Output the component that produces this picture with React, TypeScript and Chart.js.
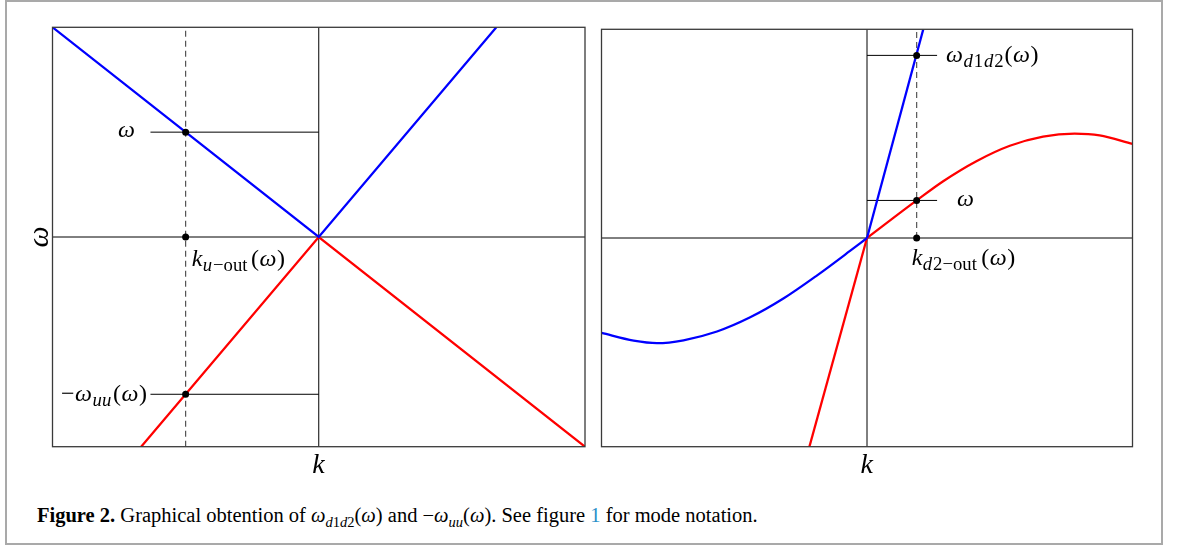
import React, { useEffect, useRef } from "react";
import { Chart, registerables } from "chart.js";

Chart.register(...registerables);

// ---------- data (normalised units, both axes span -1..1) ----------
// Left panel
const LEFT_BLUE_K = [-1, 0, 0.667];
const LEFT_BLUE_W = [1, 0, 1];
const LEFT_RED_K = [-0.667, 0, 1];
const LEFT_RED_W = [-1, 0, -1];
const LEFT_MARK_K = -0.5;
const LEFT_OMEGA = 0.5;
const LEFT_OMEGA_UU = -0.75;
const LEFT_GUIDE_START_K = -0.632;

// Right panel
const RIGHT_BLUE_CURVE_K = [-1, -0.879, -0.791, -0.691, -0.565, -0.44, -0.315, -0.189, -0.064, 0];
const RIGHT_BLUE_CURVE_W = [-0.455, -0.492, -0.504, -0.49, -0.448, -0.38, -0.29, -0.18, -0.062, 0];
const RIGHT_BLUE_LINE_K = [0, 0.212];
const RIGHT_BLUE_LINE_W = [0, 1];
const RIGHT_RED_CURVE_K = [0, 0.187, 0.287, 0.412, 0.538, 0.663, 0.782, 0.876, 1];
const RIGHT_RED_CURVE_W = [0, 0.18, 0.272, 0.368, 0.442, 0.486, 0.5, 0.492, 0.451];
const RIGHT_RED_LINE_K = [-0.217, 0];
const RIGHT_RED_LINE_W = [-1, 0];
const RIGHT_MARK_K = 0.187;
const RIGHT_OMEGA = 0.18;
const RIGHT_OMEGA_D1D2 = 0.875;
const RIGHT_GUIDE_END_K = 0.264;

const AXIS_MIN = -1;
const AXIS_MAX = 1;

// ---------- helpers ----------
const FONT = '"Liberation Serif", "Times New Roman", serif';
const LABEL_SIZE = 24;
const SUB_SCALE = 0.78;
type Part = { t: string; it?: boolean; sub?: boolean };

function pts(ks: number[], ws: number[]) {
  return ks.map((k, i) => ({ x: k, y: ws[i] }));
}

function drawRich(ctx: CanvasRenderingContext2D, parts: Part[], x: number, y: number, size: number, align: "left" | "right" | "center") {
  ctx.save();
  ctx.textBaseline = "alphabetic";
  ctx.textAlign = "left";
  ctx.fillStyle = "#000";
  const fontOf = (p: Part) => `${p.it ? "italic " : ""}${p.sub ? size * SUB_SCALE : size}px ${FONT}`;
  let total = 0;
  const widths = parts.map((p) => {
    ctx.font = fontOf(p);
    const w = ctx.measureText(p.t).width + (p.sub ? 0.9 * p.t.length : 0.5 * p.t.length);
    total += w;
    return w;
  });
  let cx = align === "left" ? x : align === "right" ? x - total : x - total / 2;
  parts.forEach((p, i) => {
    ctx.font = fontOf(p);
    ctx.fillText(p.t, cx, p.sub ? y + size * 0.2 : y);
    cx += widths[i];
  });
  ctx.restore();
}

function lineDs(data: { x: number; y: number }[], color: string, width: number, order: number, extra: any = {}) {
  return {
    data,
    showLine: true,
    borderColor: color,
    backgroundColor: color,
    borderWidth: width,
    pointRadius: 0,
    pointHoverRadius: 0,
    fill: false,
    order,
    ...extra,
  };
}

function pointDs(data: { x: number; y: number }[]) {
  return {
    data,
    showLine: false,
    pointRadius: 3.5,
    pointHoverRadius: 3.5,
    pointBorderWidth: 0,
    backgroundColor: "#000",
    borderColor: "#000",
    order: 0,
  };
}

function baseOptions(padding: any, plugin: any) {
  return {
    type: "scatter" as const,
    options: {
      responsive: false,
      devicePixelRatio: 1,
      animation: false as const,
      events: [],
      layout: { padding },
      plugins: { legend: { display: false }, tooltip: { enabled: false }, title: { display: false } },
      scales: {
        x: { type: "linear" as const, min: AXIS_MIN, max: AXIS_MAX, display: false },
        y: { type: "linear" as const, min: AXIS_MIN, max: AXIS_MAX, display: false },
      },
    },
    plugins: [plugin],
  };
}

const frameAndLabels = (which: "left" | "right") => ({
  id: "frame-" + which,
  afterDatasetsDraw(chart: any) {
    const { ctx, chartArea: a, scales } = chart;
    const xs = scales.x;
    const ys = scales.y;
    ctx.save();
    ctx.strokeStyle = "#3a3a3a";
    ctx.lineWidth = 1.3;
    ctx.strokeRect(a.left, a.top, a.right - a.left, a.bottom - a.top);
    ctx.restore();

    const axisY = 473;
    drawRich(ctx, [{ t: "k", it: true }], xs.getPixelForValue(0), axisY, 28, "center");

    if (which === "left") {
      // rotated omega y label
      ctx.save();
      ctx.translate(40, ys.getPixelForValue(0));
      ctx.rotate(-Math.PI / 2);
      ctx.font = `italic 30px ${FONT}`;
      ctx.textAlign = "center";
      ctx.textBaseline = "middle";
      ctx.fillStyle = "#000";
      ctx.fillText("ω", 0, 0);
      ctx.restore();

      const gx = xs.getPixelForValue(LEFT_GUIDE_START_K);
      const mx = xs.getPixelForValue(LEFT_MARK_K);
      drawRich(ctx, [{ t: "ω", it: true }], gx - 15, ys.getPixelForValue(LEFT_OMEGA) + 5, LABEL_SIZE, "right");
      drawRich(
        ctx,
        [{ t: "−" }, { t: "ω", it: true }, { t: "uu", it: true, sub: true }, { t: "(" }, { t: "ω", it: true }, { t: ")" }],
        gx - 3,
        ys.getPixelForValue(LEFT_OMEGA_UU) + 7,
        LABEL_SIZE,
        "right"
      );
      drawRich(
        ctx,
        [{ t: "k", it: true }, { t: "u", it: true, sub: true }, { t: "−out", sub: true }, { t: "(" }, { t: "ω", it: true }, { t: ")" }],
        mx + 6,
        ys.getPixelForValue(0) + 29,
        LABEL_SIZE,
        "left"
      );
    } else {
      const ex = xs.getPixelForValue(RIGHT_GUIDE_END_K);
      const mx = xs.getPixelForValue(RIGHT_MARK_K);
      drawRich(
        ctx,
        [{ t: "ω", it: true }, { t: "d", it: true, sub: true }, { t: "1", sub: true }, { t: "d", it: true, sub: true }, { t: "2", sub: true }, { t: "(" }, { t: "ω", it: true }, { t: ")" }],
        ex + 9,
        ys.getPixelForValue(RIGHT_OMEGA_D1D2) + 7,
        LABEL_SIZE,
        "left"
      );
      drawRich(ctx, [{ t: "ω", it: true }], ex + 20, ys.getPixelForValue(RIGHT_OMEGA) + 6, LABEL_SIZE, "left");
      drawRich(
        ctx,
        [{ t: "k", it: true }, { t: "d", it: true, sub: true }, { t: "2−out", sub: true }, { t: "(" }, { t: "ω", it: true }, { t: ")" }],
        mx - 5,
        ys.getPixelForValue(0) + 27,
        LABEL_SIZE,
        "left"
      );
    }
  },
});

const BLUE = "#0000ff";
const RED = "#ff0000";
const DASH = { borderDash: [6, 4] };

export default function App() {
  const leftRef = useRef<HTMLCanvasElement>(null);
  const rightRef = useRef<HTMLCanvasElement>(null);

  useEffect(() => {
    const lb = baseOptions({ left: 52.5, top: 27.3, right: 10, bottom: 43.3 }, frameAndLabels("left"));
    const left = new Chart(leftRef.current as HTMLCanvasElement, {
      ...lb,
      data: {
        datasets: [
          pointDs([
            { x: LEFT_MARK_K, y: LEFT_OMEGA },
            { x: LEFT_MARK_K, y: 0 },
            { x: LEFT_MARK_K, y: LEFT_OMEGA_UU },
          ]),
          lineDs(pts(LEFT_BLUE_K, LEFT_BLUE_W), BLUE, 2.3, 1),
          lineDs(pts(LEFT_RED_K, LEFT_RED_W), RED, 2.3, 1),
          lineDs([{ x: LEFT_MARK_K, y: AXIS_MIN }, { x: LEFT_MARK_K, y: AXIS_MAX }], "#555", 1.2, 2, DASH),
          lineDs([{ x: AXIS_MIN, y: 0 }, { x: AXIS_MAX, y: 0 }], "#000", 1, 3),
          lineDs([{ x: 0, y: AXIS_MIN }, { x: 0, y: AXIS_MAX }], "#000", 1, 3),
          lineDs([{ x: LEFT_GUIDE_START_K, y: LEFT_OMEGA }, { x: 0, y: LEFT_OMEGA }], "#000", 1, 3),
          lineDs([{ x: LEFT_GUIDE_START_K, y: LEFT_OMEGA_UU }, { x: 0, y: LEFT_OMEGA_UU }], "#000", 1, 3),
        ],
      },
    } as any);

    const rb = baseOptions({ left: 6.5, top: 29.3, right: 46.5, bottom: 43.3 }, frameAndLabels("right"));
    const mono = { cubicInterpolationMode: "monotone", tension: 0.4 };
    const right = new Chart(rightRef.current as HTMLCanvasElement, {
      ...rb,
      data: {
        datasets: [
          pointDs([
            { x: RIGHT_MARK_K, y: RIGHT_OMEGA_D1D2 },
            { x: RIGHT_MARK_K, y: RIGHT_OMEGA },
            { x: RIGHT_MARK_K, y: 0 },
          ]),
          lineDs(pts(RIGHT_BLUE_CURVE_K, RIGHT_BLUE_CURVE_W), BLUE, 2.3, 1, mono),
          lineDs(pts(RIGHT_BLUE_LINE_K, RIGHT_BLUE_LINE_W), BLUE, 2.3, 1),
          lineDs(pts(RIGHT_RED_CURVE_K, RIGHT_RED_CURVE_W), RED, 2.3, 1, mono),
          lineDs(pts(RIGHT_RED_LINE_K, RIGHT_RED_LINE_W), RED, 2.3, 1),
          lineDs([{ x: RIGHT_MARK_K, y: 0 }, { x: RIGHT_MARK_K, y: AXIS_MAX }], "#555", 1.2, 2, DASH),
          lineDs([{ x: AXIS_MIN, y: 0 }, { x: AXIS_MAX, y: 0 }], "#000", 1, 3),
          lineDs([{ x: 0, y: AXIS_MIN }, { x: 0, y: AXIS_MAX }], "#000", 1, 3),
          lineDs([{ x: 0, y: RIGHT_OMEGA_D1D2 }, { x: RIGHT_GUIDE_END_K, y: RIGHT_OMEGA_D1D2 }], "#000", 1, 3),
          lineDs([{ x: 0, y: RIGHT_OMEGA }, { x: RIGHT_GUIDE_END_K, y: RIGHT_OMEGA }], "#000", 1, 3),
        ],
      },
    } as any);

    return () => {
      left.destroy();
      right.destroy();
    };
  }, []);

  return (
    <div style={{ position: "absolute", left: 0, top: 0, width: 1179, height: 549, background: "#fff", overflow: "hidden" }}>
      <div
        style={{
          position: "absolute",
          left: 5,
          top: 0,
          width: 1158,
          height: 545,
          border: "2px solid #a9a9a9",
          boxSizing: "border-box",
        }}
      />
      <canvas ref={leftRef} width={595} height={490} style={{ position: "absolute", left: 0, top: 0, width: 595, height: 490 }} />
      <canvas ref={rightRef} width={584} height={490} style={{ position: "absolute", left: 595, top: 0, width: 584, height: 490 }} />
      <div
        style={{
          position: "absolute",
          left: 37,
          top: 503,
          fontFamily: FONT,
          fontSize: 20.5,
          lineHeight: "24px",
          whiteSpace: "nowrap",
          color: "#000",
        }}
      >
        <b>Figure 2.</b> Graphical obtention of <i>ω</i>
        <sub style={{ fontSize: 14.5, lineHeight: 0 }}>
          <i>d</i>1<i>d</i>2
        </sub>
        (<i>ω</i>) and −<i>ω</i>
        <sub style={{ fontSize: 14.5, lineHeight: 0 }}>
          <i>uu</i>
        </sub>
        (<i>ω</i>). See figure <span style={{ color: "#2b8fc9" }}>1</span> for mode notation.
      </div>
    </div>
  );
}
